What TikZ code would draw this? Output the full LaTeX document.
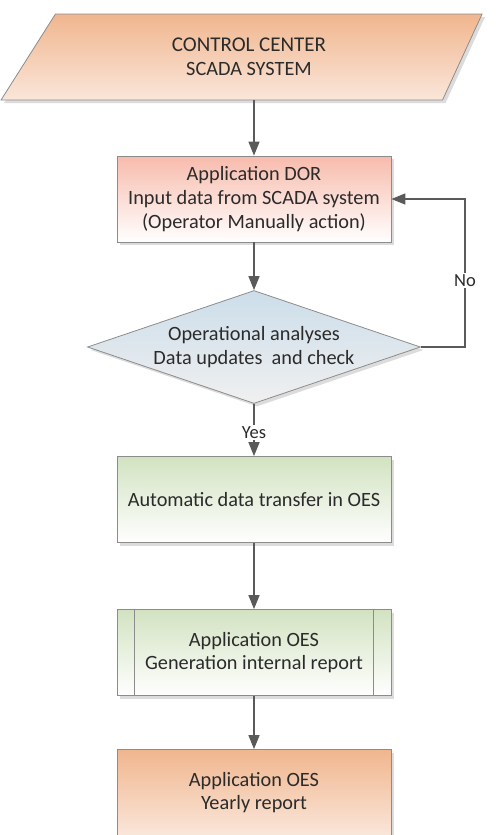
\documentclass[tikz,border=0pt]{standalone}
\usepackage{fontspec}
\setmainfont{Carlito}
\usetikzlibrary{shapes.geometric,arrows.meta,shadows}

\definecolor{linegrey}{HTML}{5A5A5A}
\definecolor{edgegrey}{HTML}{8C8C8C}
\definecolor{textgrey}{HTML}{2B2B2B}
\definecolor{orangetop}{HTML}{F0B68E}
\definecolor{orangebot}{HTML}{FAE6DA}
\definecolor{salmontop}{HTML}{F7BBAC}
\definecolor{bluetop}{HTML}{CCDDEA}
\definecolor{bluebot}{HTML}{F0F0F0}
\definecolor{greentop}{HTML}{D2E2C1}

\begin{document}
\begin{tikzpicture} [x=1pt,y=-1pt,>=Triangle,
			font=\fontsize{20.3}{23.8}\selectfont,
			every node/.style={text=textgrey,align=center},
			shape shadow/.style={drop shadow={shadow xshift=3pt,shadow yshift=-3pt,opacity=0.3,fill=black!45}},
			process/.style={rectangle,draw=edgegrey,line width=0.8pt,minimum width=274pt,minimum height=86pt,shape shadow},
			io/.style={trapezium,trapezium left angle=62.9,trapezium right angle=110.4,trapezium stretches=true,
				draw=edgegrey,line width=0.8pt,minimum width=482pt,minimum height=86pt,
				top color=orangetop,bottom color=orangebot,shape shadow},
			decision/.style={diamond,aspect=2.95,inner sep=0pt,draw=edgegrey,line width=0.8pt,
				minimum width=333pt,minimum height=113pt,top color=bluetop,bottom color=bluebot,shape shadow},
			flow/.style={draw=linegrey,line width=1.5pt,-{Triangle[length=14pt,width=11pt]}},
			answer/.style={fill=white,inner sep=1.5pt,font=\fontsize{18.5}{21}\selectfont}]

		\useasboundingbox (0,0) rectangle (499,835);

		\node [io] (scada) at (249,57) {\fontsize{21}{25}\selectfont CONTROL CENTER\\SCADA SYSTEM};
		\node [process, top color=salmontop, bottom color=white] (dor) at (254,199)
			{Application DOR\\Input data from SCADA system\\(Operator Manually action)};
		\node [decision] (check) at (254,347) {Operational analyses\\Data updates \ and check};
		\node [process, top color=greentop, bottom color=white] (transfer) at (254,499.5)
			{Automatic data transfer in OES};
		\node [process, top color=greentop, bottom color=white] (internal) at (254,652.5)
			{Application OES\\Generation internal report};
		\node [process, top color=orangetop, bottom color=orangebot] (yearly) at (254,792.5)
			{Application OES\\Yearly report};

		% side bars of the predefined process
		\draw [edgegrey,line width=0.8pt] ([xshift=18pt]internal.north west) -- ([xshift=18pt]internal.south west);
		\draw [edgegrey,line width=0.8pt] ([xshift=-18pt]internal.north east) -- ([xshift=-18pt]internal.south east);

		\draw [flow] (dor.north |- scada.south) -- (dor.north);
		\draw [flow] (dor.south) -- (check.north);
		\draw [flow] (check.east) -- ++(44,0) |- node [answer, pos=0.225] {No} (dor.east);
		\draw [flow] (check.south) -- node [answer, pos=0.55] {Yes} (transfer.north);
		\draw [flow] (transfer.south) -- (internal.north);
		\draw [flow] (internal.south) -- (yearly.north);

		\end{tikzpicture}
\end{document}
